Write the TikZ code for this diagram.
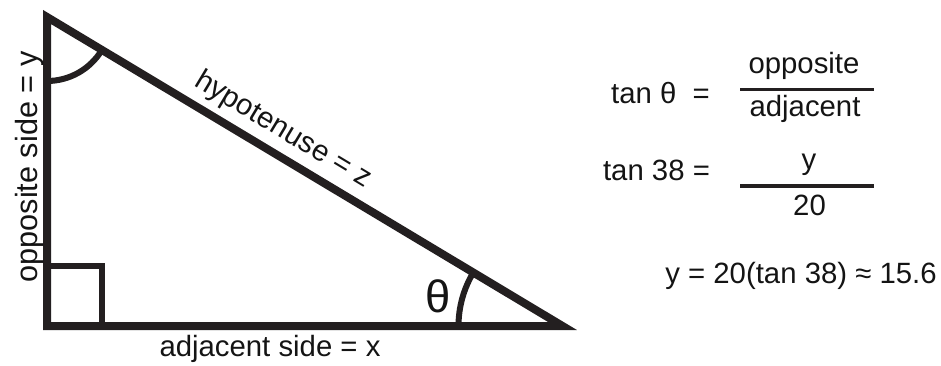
\documentclass[tikz,border=0pt]{standalone}
\usepackage{fontspec}
\setmainfont{Liberation Sans}
\definecolor{linecol}{RGB}{35,31,32}
\definecolor{txtcol}{RGB}{20,20,20}
\begin{document}
\begin{tikzpicture}[x=0.75pt,y=-0.75pt,
  side/.style={draw=linecol,line width=6pt,line join=miter},
  mark90/.style={draw=linecol,line width=4.5pt},
  anglearc/.style={draw=linecol,line width=4.5pt},
  fracline/.style={draw=linecol,line width=2.6pt},
  lbl/.style={inner sep=0pt,outer sep=0pt,anchor=base,text=txtcol,font=\fontsize{22}{26}\selectfont},
  biglbl/.style={lbl,font=\fontsize{34}{40}\selectfont}]
\useasboundingbox (0,0) rectangle (941,365);
% vertices
\coordinate (A) at (47,17);
\coordinate (B) at (47,326);
\coordinate (C) at (562.5,326);
% right-angle mark
\coordinate (S1) at (47,266);
\coordinate (S2) at (102,266);
\coordinate (S3) at (102,326);
\draw[mark90] (S1) -- (S2) -- (S3);
% angle arcs
\coordinate (ArcA) at (47,81);
\draw[anglearc] (ArcA) arc[start angle=90,end angle=31,radius=64];
\coordinate (ArcC) at (458.5,326);
\draw[anglearc] (ArcC) arc[start angle=180,end angle=211,radius=104];
% triangle
\draw[side] (A) -- (B) -- (C) -- cycle;
% labels on triangle
\node[lbl] (adj) at (270,356.7) {adjacent side = x};
\node[lbl,rotate=90,font=\fontsize{23}{27}\selectfont] (opp) at (37,167) {opposite side = y};
\node[lbl,rotate=-31] (hyp) at (279,137) {hypotenuse = z};
\node[biglbl] (theta) at (438,312) {θ};
% formulas
\node[lbl] (eq1) at (660.5,103.3) {tan θ\ \ =};
\node[lbl] (num1) at (804,73.3) {opposite};
\node[lbl] (den1) at (805,116.7) {adjacent};
\coordinate (L1a) at (740,89.3);
\coordinate (L1b) at (874,89.3);
\draw[fracline] (L1a) -- (L1b);
\node[lbl] (eq2) at (656.5,180) {tan 38 =};
\node[lbl] (num2) at (809,169) {y};
\node[lbl] (den2) at (809.5,215) {20};
\coordinate (L2a) at (740,186);
\coordinate (L2b) at (874,186);
\draw[fracline] (L2a) -- (L2b);
\node[lbl] (res) at (801,283.3) {y = 20(tan 38) ≈ 15.6};
\end{tikzpicture}
\end{document}
